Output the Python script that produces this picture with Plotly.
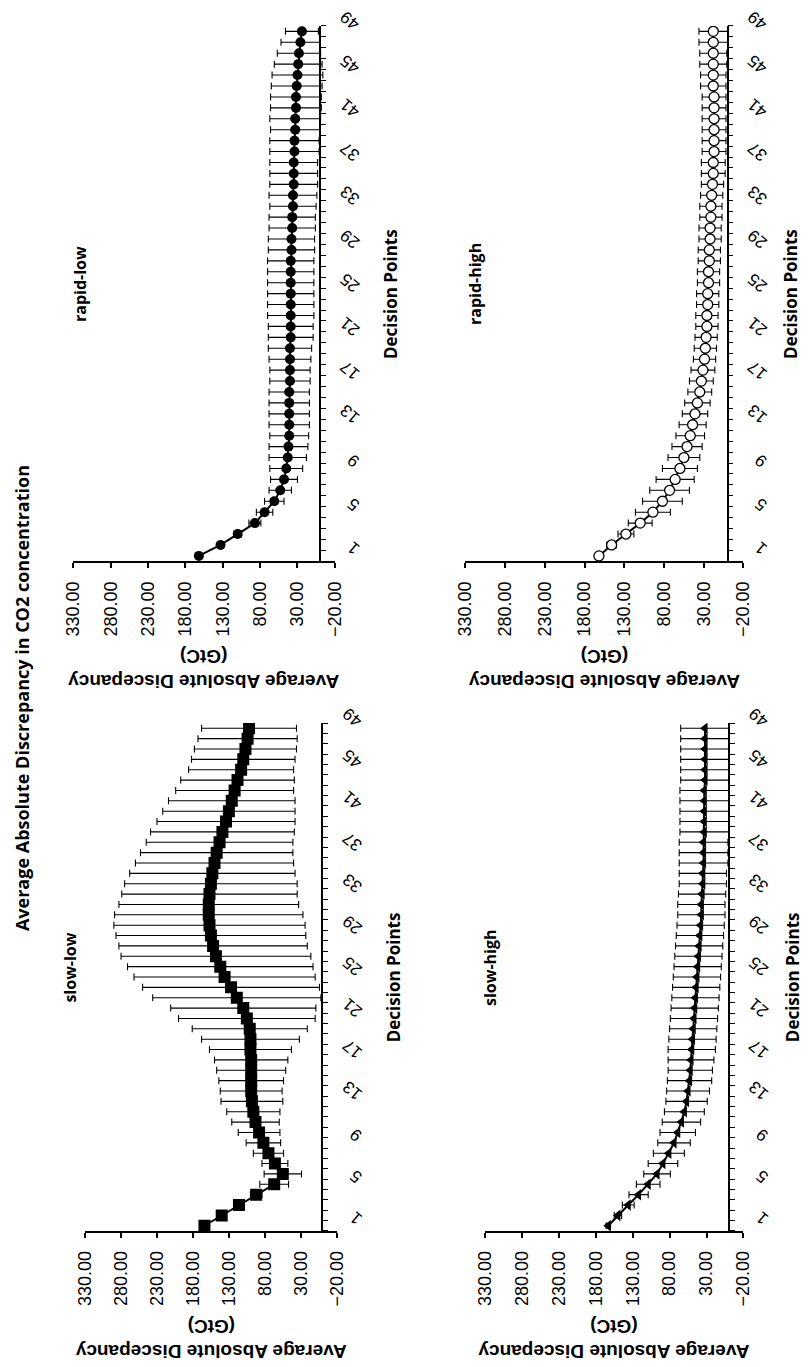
import plotly.graph_objects as go

W, H = 811, 1367

# ---------------- data ----------------
decision_points = list(range(1, 50))
decision_tick_vals = [1, 5, 9, 13, 17, 21, 25, 29, 33, 37, 41, 45, 49]
decision_tick_text = [str(v) for v in decision_tick_vals]
value_tick0 = -20
value_dtick = 50

rapid_low_mean = [162, 133, 110, 87, 74, 61, 53, 48, 45, 43, 42, 41, 41, 41, 41, 41, 40, 40, 40, 40,
                  39, 39, 39, 39, 39, 39, 39, 39, 38, 38, 37, 37, 36, 36, 35, 35, 35, 34, 34, 33,
                  33, 32, 32, 31, 30, 29, 28, 26, 24]
rapid_low_err = [2, 3, 5, 8, 11, 13, 15, 18, 22, 25, 26, 26, 27, 27, 27, 27, 27, 27, 28, 29,
                 30, 30, 31, 31, 31, 31, 31, 31, 31, 31, 31, 31, 31, 32, 32, 32, 32, 33, 33, 33,
                 34, 34, 34, 34, 34, 32, 29, 26, 22]

rapid_high_mean = [162, 146, 128, 110, 94, 82, 73, 66, 60, 55, 51, 47, 44, 41, 38, 35, 33, 31, 29, 28,
                   27, 26, 26, 25, 25, 24, 24, 23, 23, 22, 22, 21, 21, 20, 19, 18, 18, 17, 17, 17,
                   17, 17, 17, 18, 18, 18, 18, 18, 18]
rapid_high_err = [3, 6, 10, 15, 22, 25, 25, 24, 22, 20, 19, 18, 17, 16, 16, 15, 15, 15, 14, 14,
                  14, 14, 14, 14, 14, 14, 14, 14, 14, 14, 14, 14, 14, 14, 14, 15, 15, 15, 15, 15,
                  15, 15, 15, 16, 16, 17, 17, 18, 18]

slow_low_mean = [164, 140, 116, 92, 67, 55, 66, 75, 82, 88, 93, 96, 98, 99, 99, 99, 99, 100, 100, 101,
                 105, 110, 119, 127, 136, 142, 148, 152, 155, 157, 158, 158, 157, 155, 153, 150, 147, 143, 139, 134,
                 130, 126, 122, 118, 113, 110, 107, 104, 102]
slow_low_err = [3, 3, 4, 8, 20, 26, 18, 21, 24, 29, 33, 37, 43, 43, 45, 48, 51, 57, 68, 80,
                95, 101, 117, 123, 126, 129, 132, 131, 132, 133, 131, 125, 122, 120, 115, 110, 106, 102, 100, 96,
                92, 88, 82, 79, 73, 72, 71, 69, 66]

slow_high_mean = [163, 150, 136, 122, 109, 97, 89, 81, 74, 69, 64, 60, 57, 55, 53, 52, 51, 50, 49, 48,
                  47, 46, 45, 44, 43, 42, 41, 40, 39, 38, 37, 37, 36, 35, 35, 34, 34, 34, 33, 33,
                  33, 33, 33, 32, 32, 32, 32, 32, 32]
slow_high_err = [3, 5, 8, 13, 16, 18, 20, 21, 22, 24, 26, 27, 28, 29, 30, 30, 31, 32, 32, 32,
                 32, 32, 32, 32, 32, 32, 32, 32, 32, 32, 32, 32, 32, 32, 32, 33, 33, 33, 33, 33,
                 33, 33, 33, 33, 33, 33, 33, 33, 33]

panel_names = ["rapid-low", "rapid-high", "slow-low", "slow-high"]
title_text = "Average Absolute Discrepancy in CO2 concentration"
value_axis_title = "Average Absolute Discepancy<br>(GtC)"
decision_axis_title = "Decision Points"

# ---------------- styling / geometry ----------------
TICK_FONT = dict(family="Liberation Sans, Arial, sans-serif", size=18, color="black")
BOLD_FONT = "Liberation Sans, Arial, sans-serif"
CAL_FONT = "Open Sans, Noto Sans, sans-serif"

panels = [
    dict(name=panel_names[0], mean=rapid_low_mean, err=rapid_low_err,
         marker=dict(symbol="circle", size=10, color="black"),
         x0=65, x1=333, ytop=7, ybot=550, label_x=72, dp_x=390),
    dict(name=panel_names[1], mean=rapid_high_mean, err=rapid_high_err,
         marker=dict(symbol="circle", size=10, color="white", line=dict(color="black", width=1.3)),
         x0=467, x1=752, ytop=7, ybot=550, label_x=477, dp_x=800),
    dict(name=panel_names[2], mean=slow_low_mean, err=slow_low_err,
         marker=dict(symbol="square", size=12, color="black"),
         x0=77, x1=335, ytop=714, ybot=1229, label_x=62, dp_x=394),
    dict(name=panel_names[3], mean=slow_high_mean, err=slow_high_err,
         marker=dict(symbol="triangle-left", size=10, color="black"),
         x0=487, x1=752, ytop=714, ybot=1229, label_x=492, dp_x=803),
]

fig = go.Figure()
annotations = []
layout = {}

for i, p in enumerate(panels, start=1):
    xa = "x" if i == 1 else f"x{i}"
    ya = "y" if i == 1 else f"y{i}"
    xkey = "xaxis" if i == 1 else f"xaxis{i}"
    ykey = "yaxis" if i == 1 else f"yaxis{i}"

    fig.add_trace(go.Scatter(
        x=p["mean"], y=decision_points, xaxis=xa, yaxis=ya,
        mode="lines+markers",
        line=dict(color="black", width=2),
        marker=p["marker"],
        error_x=dict(type="data", array=p["err"], symmetric=True,
                     color="black", thickness=1.1, width=3.5),
        showlegend=False, hoverinfo="skip",
    ))

    xzero = p["x1"] - 20 * (p["x1"] - p["x0"]) / 350.0
    layout[xkey] = dict(
        domain=[p["x0"] / W, p["x1"] / W], anchor=ya,
        range=[330, -20], tickmode="linear", tick0=value_tick0, dtick=value_dtick,
        tickformat=".2f", tickangle=-90, ticks="outside", ticklen=5,
        tickcolor="black", tickwidth=1.5, showline=True, linecolor="black",
        linewidth=1.8, showgrid=False, zeroline=False, tickfont=TICK_FONT,
        ticklabelstandoff=6,
    )
    layout[ykey] = dict(
        domain=[1 - p["ybot"] / H, 1 - p["ytop"] / H], anchor="free",
        position=xzero / W, side="right", range=[0.5, 49.5],
        tickmode="array", tickvals=decision_tick_vals, ticktext=decision_tick_text,
        tickangle=-140, ticks="", showline=True, linecolor="black", linewidth=1.8,
        showgrid=False, zeroline=False, tickfont=dict(TICK_FONT, size=17),
        ticklabelstandoff=31,
        minor=dict(tickvals=[k + 0.5 for k in range(0, 50)], ticks="outside",
                   ticklen=5, tickcolor="black", tickwidth=1.2, showgrid=False),
    )

    ymid = (p["ytop"] + p["ybot"]) / 2
    annotations.append(dict(
        text=f"<b>{p['name']}</b>", x=p["label_x"] / W, y=1 - (ymid - 10) / H,
        xref="paper", yref="paper", showarrow=False, textangle=-90,
        xanchor="center", yanchor="middle",
        font=dict(family=CAL_FONT, size=16, color="black")))
    annotations.append(dict(
        text=f"<b>{decision_axis_title}</b>", x=p["dp_x"] / W, y=1 - ymid / H,
        xref="paper", yref="paper", showarrow=False, textangle=-90,
        xanchor="center", yanchor="middle",
        font=dict(family=CAL_FONT, size=17, color="black")))
    annotations.append(dict(
        text=f"<b>{value_axis_title}</b>", x=((p["x0"] + p["x1"]) / 2) / W,
        y=1 - (p["ybot"] + 109) / H,
        xref="paper", yref="paper", showarrow=False, textangle=180,
        xanchor="center", yanchor="middle", align="center",
        font=dict(family=BOLD_FONT, size=19, color="black")))

annotations.append(dict(
    text=f"<b>{title_text}</b>", x=13 / W, y=1 - 689 / H,
    xref="paper", yref="paper", showarrow=False, textangle=-90,
    xanchor="center", yanchor="middle",
    font=dict(family=CAL_FONT, size=18, color="black")))

fig.update_layout(
    width=W, height=H, margin=dict(l=0, r=0, t=0, b=0),
    paper_bgcolor="white", plot_bgcolor="white",
    annotations=annotations, **layout,
)

fig.write_html("out.html", config={"displayModeBar": False},
               post_script="document.body.style.margin='0';")
